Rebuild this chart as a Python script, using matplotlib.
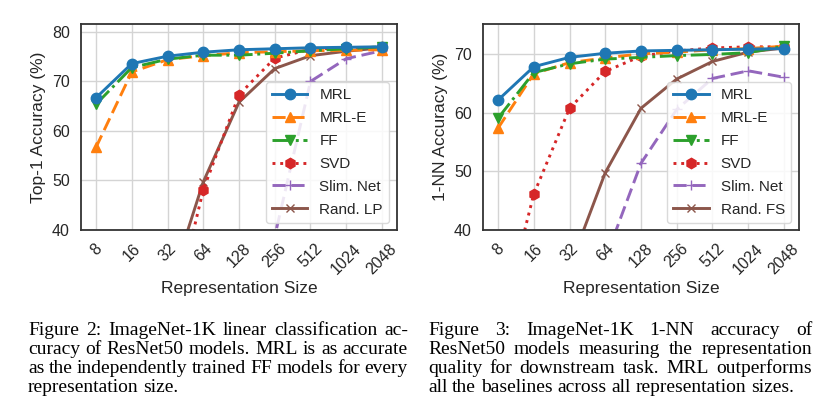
import matplotlib
matplotlib.use("Agg")
import matplotlib.pyplot as plt

# Representation sizes on the x axis (evenly spaced, log2)
sizes = ["8", "16", "32", "64", "128", "256", "512", "1024", "2048"]

# Figure 2: top-1 linear classification accuracy
top1_mrl = [66.7, 73.6, 75.1, 75.9, 76.4, 76.6, 76.8, 76.9, 77.0]
top1_mrl_e = [56.7, 71.9, 74.4, 75.2, 75.8, 76.0, 76.2, 76.3, 76.4]
top1_ff = [65.4, 72.8, 74.5, 75.3, 75.3, 75.7, 76.2, 76.6, 77.0]
top1_svd = [2.3, 7.2, 18.0, 48.1, 67.3, 74.7, 76.5, 76.8, 76.9]
top1_slim = [0.4, 1.0, 2.3, 5.6, 15.1, 38.7, 70.0, 74.6, 76.2]
top1_rand = [4.6, 11.3, 27.2, 49.7, 65.8, 72.6, 75.2, 76.1, 76.8]

# Figure 3: 1-NN accuracy
nn_mrl = [62.2, 67.9, 69.5, 70.2, 70.6, 70.7, 70.8, 70.9, 71.0]
nn_mrl_e = [57.4, 66.7, 68.6, 69.4, 70.1, 70.4, 70.8, 71.0, 71.4]
nn_ff = [59.1, 66.9, 68.4, 69.2, 69.5, 69.8, 70.0, 70.3, 71.4]
nn_svd = [22.0, 46.1, 60.8, 67.1, 69.7, 70.6, 71.1, 71.3, 71.3]
nn_slim = [0.5, 2.0, 12.0, 35.0, 51.4, 60.6, 65.9, 67.2, 66.1]
nn_rand = [16.0, 24.0, 33.6, 49.8, 60.8, 65.8, 68.8, 70.4, 71.1]

caption_left = [
    "Figure 2: ImageNet-1K linear classification ac-",
    "curacy of ResNet50 models. MRL is as accurate",
    "as the independently trained FF models for every",
    "representation size.",
]
caption_right = [
    "Figure 3: ImageNet-1K 1-NN accuracy of",
    "ResNet50 models measuring the representation",
    "quality for downstream task. MRL outperforms",
    "all the baselines across all representation sizes.",
]

plt.rcParams["font.family"] = ["Liberation Sans", "DejaVu Sans"]
plt.rcParams["text.color"] = "#262626"
plt.rcParams["axes.labelcolor"] = "#262626"
plt.rcParams["xtick.color"] = "#262626"
plt.rcParams["ytick.color"] = "#262626"

W, H = 827, 415
fig = plt.figure(figsize=(W / 100, H / 100), dpi=100)

ax1 = fig.add_axes([81 / W, 1 - 230 / H, 316 / W, 206 / H])
ax2 = fig.add_axes([483 / W, 1 - 230 / H, 316 / W, 206 / H])


def draw(ax, series, last_label, ylabel, ylim, yticks):
    x = range(len(sizes))
    styles = [
        ("MRL", "#1f77b4", "-", "o", 7.5, 6),
        ("MRL-E", "#ff7f0e", (0, (4.5, 2)), "^", 7.5, 4),
        ("FF", "#2ca02c", "-.", "v", 7.5, 5),
        ("SVD", "#d62728", ":", "h", 7.5, 3),
        ("Slim. Net", "#9467bd", (0, (4.5, 2)), "+", 7, 2),
        (last_label, "#8c564b", "-", "x", 6, 1),
    ]
    for ys, (lab, c, ls, m, ms, z) in zip(series, styles):
        ax.plot(x, ys, color=c, ls=ls, marker=m, ms=ms, lw=2.1, label=lab,
                zorder=z + 2, markeredgewidth=1)
    ax.set_xticks(list(x))
    ax.set_xticklabels(sizes, rotation=45, fontsize=11.5)
    ax.set_xlim(-0.42, 8.42)
    ax.set_ylim(*ylim)
    ax.set_yticks(yticks)
    ax.tick_params(axis="y", labelsize=11.5, length=0, pad=8)
    ax.tick_params(axis="x", length=0, pad=8)
    ax.grid(True, color="#d4d4d4", lw=1)
    ax.set_axisbelow(True)
    for sp in ax.spines.values():
        sp.set_color("#333333")
        sp.set_linewidth(1.3)
        sp.set_zorder(10)
    ax.set_xlabel("Representation Size", fontsize=12.5, labelpad=3)
    ax.set_ylabel(ylabel, fontsize=12.5, labelpad=4)
    ax.legend(loc="lower right", bbox_to_anchor=(0.975, 0.035),
              borderaxespad=0, fontsize=11, handlelength=2.3,
              framealpha=0.85, edgecolor="#d4d4d4", labelspacing=0.58)


draw(ax1, [top1_mrl, top1_mrl_e, top1_ff, top1_svd, top1_slim, top1_rand],
     "Rand. LP", "Top-1 Accuracy (%)", (40, 81.6), [40, 50, 60, 70, 80])
draw(ax2, [nn_mrl, nn_mrl_e, nn_ff, nn_svd, nn_slim, nn_rand],
     "Rand. FS", "1-NN Accuracy (%)", (40, 75.2), [40, 50, 60, 70])


# justified captions, placed word by word
def caption(lines, x0, x1, baselines, size=14):
    renderer = fig.canvas.get_renderer()
    for i, line in enumerate(lines):
        words = line.split()
        y = 1 - baselines[i] / H
        texts = [fig.text(0, y, w, fontsize=size, va="baseline",
                          family=["Liberation Serif", "DejaVu Serif"], color="black")
                 for w in words]
        widths = [t.get_window_extent(renderer).width for t in texts]
        if i == len(lines) - 1:
            gap = size * 0.25 * 100 / 72
        else:
            gap = (x1 - x0 - sum(widths)) / (len(words) - 1)
        pos = x0
        for t, w in zip(texts, widths):
            t.set_x(pos / W)
            pos += w + gap


base = [335, 354, 373, 392]
caption(caption_left, 28, 408, base)
caption(caption_right, 428, 812, base)

fig.savefig("out.png", dpi=100)
